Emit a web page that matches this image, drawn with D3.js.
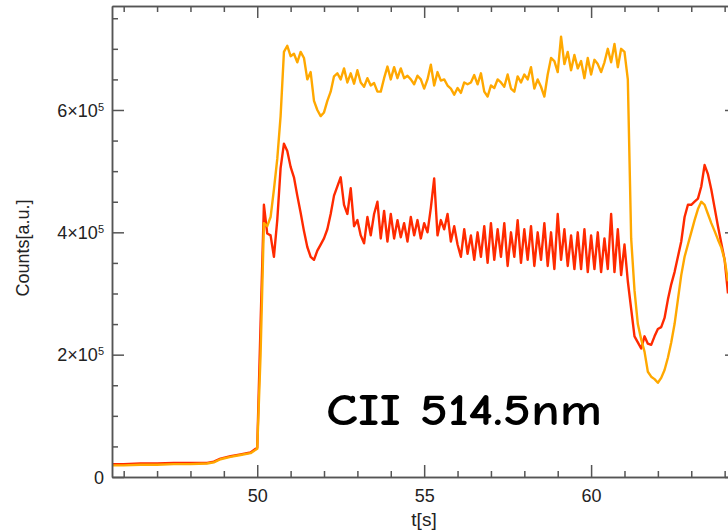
<!DOCTYPE html>
<html>
<head>
<meta charset="utf-8">
<script src="https://cdn.jsdelivr.net/npm/d3@7"></script>
<style>
  body { margin: 0; background: #fff; }
  .axis path, .axis line { stroke: #555; stroke-width: 1.5; }
  .axis text { font-family: "Liberation Sans", Arial, sans-serif; font-size: 18px; fill: #222; }
</style>
</head>
<body>
<script>
//time samples [s]
var times = [45.6, 46.0, 46.5, 47.0, 47.5, 48.0, 48.5, 48.7, 48.9, 49.2, 49.5, 49.8, 50.0,
  50.1, 50.2, 50.3, 50.4, 50.5, 50.6, 50.7, 50.8, 50.9, 51.0,
  51.1, 51.2, 51.3, 51.4, 51.5, 51.6, 51.7, 51.8, 51.9, 52.0,
  52.1, 52.2, 52.3, 52.4, 52.5, 52.6, 52.7, 52.8, 52.9, 53.0,
  53.1, 53.2, 53.3, 53.4, 53.5, 53.6, 53.7, 53.8, 53.9, 54.0,
  54.1, 54.2, 54.3, 54.4, 54.5, 54.6, 54.7, 54.8, 54.9, 55.0,
  55.1, 55.2, 55.3, 55.4, 55.5, 55.6, 55.7, 55.8, 55.9, 56.0,
  56.1, 56.2, 56.3, 56.4, 56.5, 56.6, 56.7, 56.8, 56.9, 57.0,
  57.1, 57.2, 57.3, 57.4, 57.5, 57.6, 57.7, 57.8, 57.9, 58.0,
  58.1, 58.2, 58.3, 58.4, 58.5, 58.6, 58.7, 58.8, 58.9, 59.0,
  59.1, 59.2, 59.3, 59.4, 59.5, 59.6, 59.7, 59.8, 59.9, 60.0,
  60.1, 60.2, 60.3, 60.4, 60.5, 60.6, 60.7, 60.8, 60.9, 61.0,
  61.1, 61.2, 61.3, 61.4, 61.5, 61.6, 61.7, 61.8, 61.9, 62.0,
  62.1, 62.2, 62.3, 62.4, 62.5, 62.6, 62.7, 62.8, 62.9, 63.0,
  63.1, 63.2, 63.3, 63.4, 63.5, 63.6, 63.7, 63.8, 63.9, 64.0, 64.1];

//counts in units of 10^5, orange trace
var orangeCounts = [0.19, 0.19, 0.20, 0.20, 0.21, 0.21, 0.22, 0.24, 0.29, 0.33, 0.36, 0.39, 0.46,
  2.0, 4.15, 4.1, 4.25, 4.7, 5.2, 5.9, 6.95, 7.05, 6.88,
  6.92, 6.78, 6.95, 6.85, 6.5, 6.62, 6.15, 6.0, 5.9, 5.96,
  6.15, 6.3, 6.55, 6.6, 6.5, 6.68, 6.45, 6.6, 6.43, 6.65,
  6.45, 6.38, 6.52, 6.4, 6.44, 6.3, 6.3, 6.52, 6.71, 6.5,
  6.7, 6.52, 6.68, 6.52, 6.56, 6.5, 6.42, 6.56, 6.5, 6.35,
  6.5, 6.74, 6.4, 6.62, 6.48, 6.5, 6.4, 6.35, 6.25, 6.36,
  6.28, 6.45, 6.42, 6.45, 6.57, 6.42, 6.6, 6.3, 6.22, 6.4,
  6.36, 6.5, 6.45, 6.38, 6.58, 6.35, 6.3, 6.55, 6.45, 6.58,
  6.5, 6.7, 6.35, 6.5, 6.38, 6.22, 6.58, 6.85, 6.8, 6.62,
  7.2, 6.75, 6.95, 6.65, 6.9, 6.68, 6.8, 6.52, 6.85, 6.58,
  6.82, 6.75, 6.62, 6.78, 7.0, 6.78, 7.08, 6.7, 7.0, 6.95,
  6.5, 3.9, 3.05, 2.5, 2.25, 2.05, 1.72, 1.64, 1.6, 1.54,
  1.62, 1.75, 1.95, 2.2, 2.5, 2.9, 3.3, 3.6, 3.8, 4.0,
  4.2, 4.38, 4.5, 4.45, 4.3, 4.15, 4.02, 3.88, 3.75, 3.55, 3.2];

//counts in units of 10^5, red trace
var redCounts = [0.21, 0.21, 0.22, 0.22, 0.23, 0.23, 0.23, 0.25, 0.30, 0.34, 0.37, 0.40, 0.48,
  2.5, 4.45, 3.98, 3.95, 3.6, 4.2, 5.05, 5.45, 5.33, 5.07,
  4.9, 4.6, 4.32, 4.02, 3.76, 3.6, 3.55, 3.7, 3.8, 3.9,
  4.05, 4.3, 4.6, 4.75, 4.9, 4.45, 4.3, 4.72, 4.1, 4.2,
  3.95, 3.82, 4.25, 3.95, 4.3, 4.5, 3.9, 4.35, 3.85, 4.3,
  3.9, 4.2, 3.92, 4.15, 3.85, 4.25, 3.95, 4.2, 3.9, 4.15,
  4.0, 4.4, 4.88, 3.95, 4.2, 4.05, 4.3, 3.85, 4.1, 3.8,
  3.6, 4.05, 3.65, 3.95, 3.55, 4.0, 3.6, 4.1, 3.5, 4.15,
  3.55, 4.05, 3.6, 4.15, 3.45, 4.0, 3.6, 4.2, 3.5, 4.05,
  3.55, 4.1, 3.45, 4.0, 3.55, 4.15, 3.45, 4.0, 3.4, 4.3,
  3.55, 4.05, 3.45, 3.95, 3.4, 4.0, 3.4, 4.05, 3.35, 3.95,
  3.4, 4.0, 3.35, 3.9, 3.4, 4.3, 3.35, 4.05, 3.3, 3.8,
  3.2, 2.75, 2.3, 2.2, 2.1, 2.3, 2.18, 2.16, 2.3, 2.42,
  2.45, 2.6, 2.9, 3.15, 3.35, 3.6, 3.85, 4.25, 4.45, 4.45,
  4.5, 4.55, 4.75, 5.1, 4.95, 4.7, 4.4, 4.1, 3.82, 3.55, 3.0];

//tick values
var xMajorTicks = [50, 55, 60];
var xMinorTicks = [46, 47, 48, 49, 51, 52, 53, 54, 56, 57, 58, 59, 61, 62, 63, 64];
var yMajorTicks = [0, 2, 4, 6];
var yMinorTicks = [0.5, 1, 1.5, 2.5, 3, 3.5, 4.5, 5, 5.5, 6.5, 7, 7.5];

var width = 728,
    height = 532;

//plot frame (right edge lies just outside the window)
var plotLeft = 112, plotRight = 737, plotTop = 6, plotBottom = 477;

var svg = d3.select("body")
    .append("svg")
    .attr("width", width)
    .attr("height", height);

var x = d3.scaleLinear().domain([45.65, 64.37]).range([plotLeft, plotRight]);
var y = d3.scaleLinear().domain([0, 7.7]).range([plotBottom, plotTop]);

//clip traces to the plot frame
svg.append("clipPath").attr("id", "frame")
    .append("rect")
    .attr("x", plotLeft).attr("y", plotTop)
    .attr("width", plotRight - plotLeft).attr("height", plotBottom - plotTop);

var line = d3.line()
    .x(function(d){ return x(d[0]); })
    .y(function(d){ return y(d[1]); });

var redData = times.map(function(t, i){ return [t, redCounts[i]]; });
var orangeData = times.map(function(t, i){ return [t, orangeCounts[i]]; });

svg.append("path")
    .datum(redData)
    .attr("clip-path", "url(#frame)")
    .attr("fill", "none")
    .attr("stroke", "#ff2a00")
    .attr("stroke-width", 2.4)
    .attr("stroke-linejoin", "round")
    .attr("d", line);

svg.append("path")
    .datum(orangeData)
    .attr("clip-path", "url(#frame)")
    .attr("fill", "none")
    .attr("stroke", "#ffa800")
    .attr("stroke-width", 2.4)
    .attr("stroke-linejoin", "round")
    .attr("d", line);

//axes: major and minor ticks pointing inward
function addAxis(axis, tx, ty){
    return svg.append("g")
        .attr("class", "axis")
        .attr("transform", "translate(" + tx + "," + ty + ")")
        .call(axis);
}

addAxis(d3.axisBottom(x).tickValues(xMinorTicks).tickSize(-6).tickSizeOuter(0).tickFormat(""), 0, plotBottom);
var xAxis = addAxis(d3.axisBottom(x).tickValues(xMajorTicks).tickSize(-12).tickSizeOuter(0).tickPadding(10), 0, plotBottom);
xAxis.selectAll("text").attr("dy", "0.85em");

addAxis(d3.axisTop(x).tickValues(xMinorTicks).tickSize(-6).tickSizeOuter(0).tickFormat(""), 0, plotTop);
addAxis(d3.axisTop(x).tickValues(xMajorTicks).tickSize(-12).tickSizeOuter(0).tickFormat(""), 0, plotTop);

addAxis(d3.axisLeft(y).tickValues(yMinorTicks).tickSize(-6).tickSizeOuter(0).tickFormat(""), plotLeft, 0);
var yAxis = addAxis(d3.axisLeft(y).tickValues(yMajorTicks).tickSize(-12).tickSizeOuter(0).tickFormat(""), plotLeft, 0);

addAxis(d3.axisRight(y).tickValues(yMinorTicks).tickSize(-6).tickSizeOuter(0).tickFormat(""), plotRight, 0);
addAxis(d3.axisRight(y).tickValues(yMajorTicks).tickSize(-12).tickSizeOuter(0).tickFormat(""), plotRight, 0);

//y tick labels as n×10^5 with superscript
yAxis.selectAll(".tick").each(function(d){
    var t = d3.select(this).append("text")
        .attr("x", -8)
        .attr("dy", "0.35em")
        .attr("text-anchor", "end");
    if (d === 0) {
        t.text("0");
    } else {
        t.append("tspan").text(d + "×10");
        t.append("tspan").attr("dy", "-0.55em").attr("font-size", "11px").text("5");
    }
});

//axis titles
svg.append("text")
    .attr("x", 424)
    .attr("y", 526)
    .attr("text-anchor", "middle")
    .style("font-family", "Liberation Sans, Arial, sans-serif")
    .style("font-size", "19px")
    .style("fill", "#222")
    .text("t[s]");

svg.append("text")
    .attr("transform", "translate(29,248) rotate(-90)")
    .attr("text-anchor", "middle")
    .style("font-family", "Liberation Sans, Arial, sans-serif")
    .style("font-size", "18px")
    .style("fill", "#222")
    .text("Counts[a.u.]");

//line label
svg.append("text")
    .attr("x", 326)
    .attr("y", 425)
    .attr("textLength", 276)
    .attr("lengthAdjust", "spacingAndGlyphs")
    .style("font-family", "'Comic Sans MS', 'Comic Neue', 'DejaVu Sans', sans-serif")
    .style("font-size", "44px")
    .style("font-weight", "bold")
    .style("fill", "#000")
    .text("CII 514.5nm");
</script>
</body>
</html>
